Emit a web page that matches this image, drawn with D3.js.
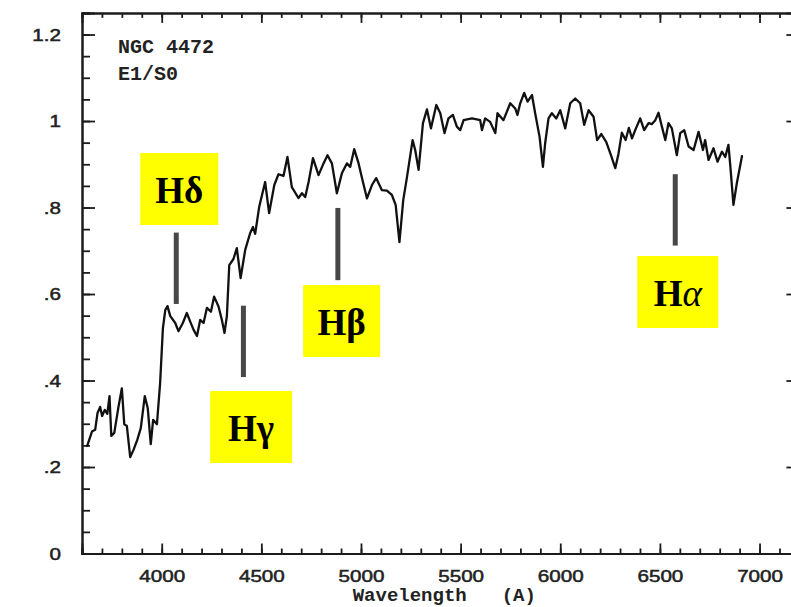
<!DOCTYPE html>
<html>
<head>
<meta charset="utf-8">
<script src="https://cdn.jsdelivr.net/npm/d3@7"></script>
<style>
  html, body { margin: 0; padding: 0; background: #fff; }
  svg { display: block; }
</style>
</head>
<body>
<svg id="chart" width="791" height="607"></svg>
<script>
// NGC 4472 (E1/S0) integrated spectrum: relative flux vs wavelength (Angstrom)
const wavelengths = [
  3626,3650,3666,3678,3691,3701,3714,3727,3738,3747,
  3762,3783,3800,3812,3825,3842,3858,3877,3895,3915,
  3930,3945,3957,3976,3992,4006,4018,4029,4043,4068,
  4084,4106,4126,4143,4160,4177,4193,4210,4227,4247,
  4263,4285,4302,4315,4327,4339,4360,4377,4396,4419,
  4444,4458,4469,4489,4519,4539,4565,4586,4611,4631,
  4653,4686,4704,4720,4737,4759,4787,4812,4832,4854,
  4879,4904,4929,4946,4966,4988,5005,5030,5055,5076,
  5105,5130,5155,5174,5193,5212,5230,5259,5272,5289,
  5311,5331,5351,5378,5398,5419,5439,5461,5481,5498,
  5515,5557,5598,5607,5623,5648,5674,5685,5715,5749,
  5774,5785,5799,5819,5836,5858,5874,5896,5913,5924,
  5941,5958,5980,6000,6025,6050,6075,6100,6120,6142,
  6167,6185,6206,6231,6256,6276,6292,6309,6328,6344,
  6360,6376,6401,6421,6443,6460,6477,6493,6510,6527,
  6543,6560,6585,6602,6622,6644,6669,6694,6716,6727,
  6744,6769,6789,6811,6828,6844,6853,6869,6886,6912
];
const flux = [
  .249,.282,.286,.325,.339,.318,.332,.323,.364,.272,
  .279,.339,.382,.299,.295,.223,.239,.262,.290,.364,
  .336,.253,.309,.299,.394,.521,.563,.572,.549,.533,
  .514,.533,.556,.536,.517,.503,.540,.533,.568,.559,
  .594,.571,.540,.510,.549,.667,.681,.706,.637,.702,
  .741,.755,.739,.801,.859,.787,.852,.877,.873,.917,
  .847,.822,.833,.824,.859,.914,.875,.902,.921,.902,
  .833,.879,.902,.894,.935,.902,.868,.821,.852,.868,
  .840,.839,.829,.806,.720,.817,.868,.956,.933,.887,
  .995,1.027,.983,1.037,1.018,.972,1.006,1.014,.987,.979,
  1.002,1.006,1.002,.979,1.006,.998,.972,1.018,1.002,1.041,
  1.029,1.014,1.041,1.065,1.045,1.060,1.018,.964,.894,.948,
  1.006,1.018,1.006,1.025,.983,1.041,1.052,1.041,.991,1.025,
  1.010,.956,.970,.951,.919,.891,.924,.973,.956,.984,
  .960,.979,1.006,.979,.995,.993,1.002,1.019,.987,.956,
  .995,.983,.921,.972,.979,.941,.933,.975,.933,.956,
  .910,.937,.906,.929,.917,.945,.898,.806,.856,.919
];

// axis ticks and their labels
const xTicks = [4000, 4500, 5000, 5500, 6000, 6500, 7000];
const yTicks = [0, 0.2, 0.4, 0.6, 0.8, 1.0, 1.2];
const yTickLabels = ["0", ".2", ".4", ".6", ".8", "1", "1.2"];

// Balmer line markers: name, wavelength, marker extent in flux units
const lineNames = ["Hδ", "Hγ", "Hβ", "Hα"];
const lineWaves = [4073, 4410, 4884, 6577];
const lineTops = [0.742, 0.573, 0.799, 0.877];
const lineBottoms = [0.577, 0.408, 0.632, 0.712];

// title block
const titleLines = ["NGC 4472", "E1/S0"];

// label box layout (pixels): horizontal offset from marker, box top, width
const boxLayout = [
  { dx: 3, top: 153, w: 78 },
  { dx: 7.7, top: 391, w: 82 },
  { dx: 3.8, top: 285, w: 77 },
  { dx: 2.5, top: 256, w: 81 }
];

const svg = d3.select("#chart");
const W = 791, H = 607;
svg.append("rect").attr("width", W).attr("height", H).attr("fill", "#fff");

const x = d3.scaleLinear().domain([3600, 7200]).range([82, 799.4]);
const y = d3.scaleLinear().domain([0, 1.25]).range([553.5, 12.9]);

const ink = "#1c1c1c";
const frame = svg.append("g");

// minor ticks, all four sides
const xMinor = d3.range(3600, 7201, 100);
const yMinor = d3.range(0, 1.2501, 0.05);

const bottomAxis = d3.axisBottom(x).tickValues(xMinor).tickSize(-5).tickFormat("");
const topAxis = d3.axisTop(x).tickValues(xMinor).tickSize(-5).tickFormat("");
const leftAxis = d3.axisLeft(y).tickValues(yMinor).tickSize(-8).tickFormat("");
const rightAxis = d3.axisRight(y).tickValues(yMinor).tickSize(-8).tickFormat("");

frame.append("g").attr("transform", `translate(0,${y(0)})`).call(bottomAxis);
frame.append("g").attr("transform", `translate(0,${y(1.25)})`).call(topAxis);
frame.append("g").attr("transform", `translate(${x(3600)},0)`).call(leftAxis);
frame.append("g").attr("transform", `translate(${x(7200)},0)`).call(rightAxis);

// major ticks
const bottomMajor = d3.axisBottom(x).tickValues(xTicks).tickSize(-10).tickFormat(d3.format("d"));
const topMajor = d3.axisTop(x).tickValues(xTicks).tickSize(-10).tickFormat("");
const leftMajor = d3.axisLeft(y).tickValues(yTicks).tickSize(-13)
  .tickFormat((d, i) => yTickLabels[i]);
const rightMajor = d3.axisRight(y).tickValues(yTicks).tickSize(-13).tickFormat("");

const gb = frame.append("g").attr("transform", `translate(0,${y(0)})`).call(bottomMajor);
frame.append("g").attr("transform", `translate(0,${y(1.25)})`).call(topMajor);
const gl = frame.append("g").attr("transform", `translate(${x(3600)},0)`).call(leftMajor);
frame.append("g").attr("transform", `translate(${x(7200)},0)`).call(rightMajor);

frame.selectAll(".domain").attr("stroke", ink).attr("stroke-width", 2);
frame.selectAll(".tick line").attr("stroke", ink).attr("stroke-width", 1.8);

gb.selectAll(".tick text")
  .attr("y", null).attr("dy", null)
  .attr("transform", "translate(0,28.5) scale(1.25,1)")
  .attr("font-family", "'Liberation Sans', Arial, sans-serif")
  .attr("font-size", 16.5)
  .attr("fill", "#222")
  .attr("stroke", "#222").attr("stroke-width", 0.5)
  .attr("text-anchor", "middle");

gl.selectAll(".tick text")
  .attr("x", null).attr("dy", "0.36em")
  .attr("transform", "translate(-21,0) scale(1.25,1)")
  .attr("font-family", "'Liberation Sans', Arial, sans-serif")
  .attr("font-size", 16.5)
  .attr("fill", "#222")
  .attr("stroke", "#222").attr("stroke-width", 0.5)
  .attr("text-anchor", "end");

// axis title
const titleFont = "'Liberation Mono', 'DejaVu Sans Mono', monospace";
svg.append("text").attr("x", 352.7).attr("y", 601).text("Wavelength")
  .attr("font-family", titleFont).attr("font-weight", "bold").attr("font-size", 19).attr("fill", "#222");
svg.append("text").attr("x", 501.7).attr("y", 601).text("(A)")
  .attr("font-family", titleFont).attr("font-weight", "bold").attr("font-size", 19).attr("fill", "#222");

// galaxy name / type
svg.selectAll("text.title").data(titleLines).join("text")
  .attr("class", "title")
  .attr("x", 118).attr("y", (d, i) => 53 + i * 27)
  .attr("font-family", titleFont).attr("font-weight", "bold").attr("font-size", 20)
  .attr("fill", "#222")
  .text(d => d);

// spectrum
const pts = d3.zip(wavelengths, flux);
svg.append("path")
  .datum(pts)
  .attr("fill", "none")
  .attr("stroke", "#111")
  .attr("stroke-width", 2.3)
  .attr("stroke-linejoin", "round")
  .attr("stroke-linecap", "round")
  .attr("d", d3.line().x(d => x(d[0])).y(d => y(d[1])));

// Balmer line markers and labels
const marks = svg.append("g");
lineNames.forEach((name, i) => {
  const lx = x(lineWaves[i]);
  marks.append("line")
    .attr("x1", lx).attr("x2", lx)
    .attr("y1", y(lineTops[i])).attr("y2", y(lineBottoms[i]))
    .attr("stroke", "#474747").attr("stroke-width", 5);
  const b = boxLayout[i];
  const cx = lx + b.dx;
  marks.append("rect")
    .attr("x", cx - b.w / 2).attr("y", b.top)
    .attr("width", b.w).attr("height", 72)
    .attr("fill", "#ffff00");
  const t = marks.append("text")
    .attr("x", cx).attr("y", b.top + 50)
    .attr("text-anchor", "middle")
    .attr("font-family", "'Liberation Serif', 'Times New Roman', serif")
    .attr("font-weight", "bold")
    .attr("font-size", 37)
    .attr("fill", "#000");
  t.append("tspan").text(name.charAt(0));
  const g = t.append("tspan").text(name.slice(1));
  if (name === "Hα") g.attr("font-style", "italic").attr("font-weight", "normal");
});
</script>
</body>
</html>
